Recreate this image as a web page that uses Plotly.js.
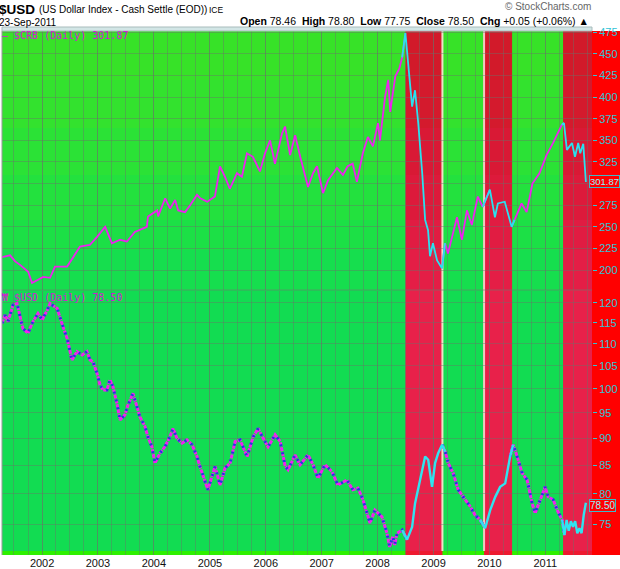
<!DOCTYPE html>
<html><head><meta charset="utf-8">
<script src="https://cdn.plot.ly/plotly-3.0.1.min.js"></script>
<style>html,body{margin:0;padding:0;background:#fff}#chart{width:620px;height:569px}</style>
</head><body><div id="chart"></div>
<script>
// ---------------- DATA ----------------
const crbDates = ['2001-04-14','2001-06-06','2001-07-09','2001-08-10','2001-10-02','2001-10-27','2002-01-08','2002-02-22','2002-03-26','2002-06-13','2002-07-20','2002-09-05','2002-11-09','2002-12-25','2003-02-17','2003-04-02','2003-05-26','2003-07-09','2003-08-30','2003-11-16','2003-11-24','2004-01-23','2004-01-29','2004-03-15','2004-04-16','2004-05-19','2004-06-08','2004-07-23','2004-08-25','2004-10-09','2004-10-30','2004-12-15','2005-02-03','2005-03-08','2005-04-09','2005-05-11','2005-06-27','2005-07-29','2005-08-31','2005-10-09','2005-11-24','2005-12-27','2006-01-29','2006-03-02','2006-04-17','2006-05-07','2006-06-09','2006-07-12','2006-08-14','2006-09-15','2006-10-04','2006-11-06','2006-12-02','2007-01-10','2007-02-12','2007-04-11','2007-05-20','2007-06-20','2007-07-23','2007-08-19','2007-09-27','2007-10-30','2007-12-02','2008-01-04','2008-01-17','2008-02-19','2008-03-11','2008-03-24','2008-04-26','2008-05-22','2008-06-10','2008-07-01','2008-07-19','2008-08-14','2008-09-02','2008-09-23','2008-10-19','2008-11-07','2008-11-26','2008-12-09','2008-12-28','2009-01-24','2009-02-25','2009-03-17','2009-04-05','2009-06-03','2009-07-05','2009-08-07','2009-09-08','2009-10-17','2009-11-18','2010-01-04','2010-02-06','2010-02-25','2010-04-11','2010-05-26','2010-06-14','2010-07-30','2010-09-01','2010-10-09','2010-11-24','2011-01-09','2011-02-21','2011-04-19','2011-05-03','2011-05-22','2011-06-24','2011-07-14','2011-08-04','2011-08-17','2011-09-06','2011-09-23'];
const crbValues = [215,217,210,206,198,185,192,191,204,204,214,227,229,238,250,231,235,233,244,250,262,269,262,283,271,281,269,267,275,287,283,279,285,320,308,294,312,308,335,331,314,335,350,323,358,366,333,356,331,308,296,312,320,289,304,318,310,320,323,302,335,354,343,370,350,400,420,383,424,433,446,474,439,389,408,370,312,258,246,216,231,211,202,231,219,261,235,269,252,285,273,293,261,277,279,250,258,277,267,300,312,333,347,368,370,339,347,331,347,335,346,301.87];

const usdDates = ['2001-04-14','2001-05-04','2001-05-23','2001-06-25','2001-07-21','2001-08-29','2001-10-01','2001-11-02','2001-12-05','2002-01-01','2002-02-03','2002-02-22','2002-04-09','2002-04-28','2002-05-18','2002-06-13','2002-07-02','2002-07-15','2002-08-17','2002-09-19','2002-10-21','2002-11-10','2002-11-29','2002-12-26','2003-01-14','2003-02-03','2003-02-28','2003-03-20','2003-04-09','2003-05-05','2003-05-25','2003-06-26','2003-07-16','2003-08-17','2003-09-13','2003-10-02','2003-11-04','2003-11-23','2003-12-19','2004-01-08','2004-02-10','2004-03-13','2004-04-15','2004-05-05','2004-05-31','2004-07-03','2004-08-04','2004-09-06','2004-10-09','2004-10-28','2004-12-19','2005-02-04','2005-03-08','2005-04-10','2005-05-13','2005-06-15','2005-07-17','2005-09-01','2005-10-11','2005-11-12','2005-12-15','2006-01-16','2006-03-03','2006-04-05','2006-05-08','2006-05-27','2006-07-11','2006-08-13','2006-10-04','2006-11-06','2006-12-08','2007-01-23','2007-03-09','2007-04-17','2007-06-15','2007-07-24','2007-08-26','2007-09-28','2007-11-13','2007-12-15','2008-01-30','2008-03-03','2008-03-20','2008-04-10','2008-04-22','2008-05-08','2008-06-10','2008-07-12','2008-08-14','2008-09-02','2008-10-05','2008-11-07','2008-11-27','2008-12-22','2009-01-11','2009-01-31','2009-02-26','2009-03-18','2009-04-07','2009-05-09','2009-06-11','2009-07-13','2009-08-28','2009-09-29','2009-11-01','2009-12-04','2010-01-06','2010-02-08','2010-03-12','2010-04-14','2010-05-16','2010-06-05','2010-07-01','2010-08-03','2010-09-04','2010-10-07','2010-10-27','2010-11-29','2010-12-31','2011-01-20','2011-02-22','2011-03-20','2011-04-21','2011-05-06','2011-05-20','2011-06-03','2011-06-17','2011-07-01','2011-07-15','2011-07-29','2011-08-12','2011-08-26','2011-09-09','2011-09-23'];
const usdValues = [114.9,116.9,115.3,119.4,119.8,113.6,112.5,115.3,117.3,115.7,118.1,119.8,118.6,116.1,114.0,111.3,108.5,106.3,108.2,107.4,108.2,106.3,105.9,103.3,100.8,99.7,99.7,101.9,100.4,96.9,93.6,94.6,96.6,99.0,96.2,94.2,92.3,90.3,88.4,85.4,87.2,88.4,90.3,91.9,90.0,89.1,89.7,88.8,86.6,84.8,80.7,84.8,81.5,84.5,85.4,89.4,89.7,86.6,90.3,91.9,90.0,88.4,90.7,89.4,84.8,84.2,86.9,85.1,86.9,85.1,82.7,85.1,83.9,81.5,82.4,80.7,81.0,79.0,75.2,77.3,76.2,73.6,71.5,73.1,71.8,73.6,74.1,72.6,74.6,78.4,82.4,86.6,86.0,81.2,85.4,87.2,88.8,87.5,85.4,83.6,80.7,79.5,77.9,76.5,75.7,74.4,77.3,79.5,81.2,81.8,86.6,88.8,86.6,83.6,82.4,78.4,76.8,79.0,81.2,79.5,79.0,77.3,75.7,73.3,75.7,74.0,75.5,74.6,75.5,73.6,74.4,73.6,76.5,78.5];

const bandStarts = ['2008-07-01','2009-11-27','2011-04-27'];
const bandEnds   = ['2009-02-28','2010-05-29','2011-11-20'];

const crbTicks = [200,225,250,275,300,325,350,375,400,425,450,475];
const crbTickText = ['200','225','250','275','','325','350','375','400','425','450','475'];
const usdTicks = [75,80,85,90,95,100,105,110,115,120];
const yearTicks = ['2002-01-01','2003-01-01','2004-01-01','2005-01-01','2006-01-01','2007-01-01','2008-01-01','2009-01-01','2010-01-01','2011-01-01'];
const yearLabels = ['2002','2003','2004','2005','2006','2007','2008','2009','2010','2011'];

const crbLast = 301.87, usdLast = 78.50;

// ---------------- LAYOUT HELPERS ----------------
const L = 2, R = 592, T = 31, B = 555;
const px = x => (x - L) / (R - L);
const py = y => (B - y) / (B - T);
const fontUI = 'Liberation Sans, Arial, sans-serif';
const fontMono = 'DejaVu Sans Mono, monospace';
const axisCyan = '#2fc3d6';
const gridCol = 'rgba(105,115,105,0.42)';

function inRed(d) {
  const t = Date.parse(d);
  return bandStarts.some((s, i) => t >= Date.parse(s) && t <= Date.parse(bandEnds[i]));
}
function split(dates, vals, wantRed) {
  const y = [];
  for (let i = 0; i < dates.length; i++) {
    const r = inRed(dates[i]);
    const p = i > 0 ? inRed(dates[i - 1]) : r;
    const n = i < dates.length - 1 ? inRed(dates[i + 1]) : r;
    y.push((r === wantRed || p === wantRed || n === wantRed) ? vals[i] : null);
  }
  return { x: dates, y };
}

const crbG = split(crbDates, crbValues, false), crbR = split(crbDates, crbValues, true);
const usdG = split(usdDates, usdValues, false), usdR = split(usdDates, usdValues, true);

const traces = [
  { x: crbG.x, y: crbG.y, xaxis: 'x', yaxis: 'y', mode: 'lines', line: { color: '#ee22ee', width: 1.8 }, hoverinfo: 'skip' },
  { x: crbR.x, y: crbR.y, xaxis: 'x', yaxis: 'y', mode: 'lines', line: { color: '#28e2f0', width: 1.8 }, hoverinfo: 'skip' },
  { x: usdG.x, y: usdG.y, xaxis: 'x', yaxis: 'y2', mode: 'lines', line: { color: '#f020f0', width: 3, dash: '4px,1px' }, hoverinfo: 'skip' },
  { x: usdG.x, y: usdG.y, xaxis: 'x', yaxis: 'y2', mode: 'lines', line: { color: '#2438e0', width: 3, dash: '2px,6px' }, hoverinfo: 'skip' },
  { x: usdR.x, y: usdR.y, xaxis: 'x', yaxis: 'y2', mode: 'lines', line: { color: '#30e4f0', width: 2.4 }, hoverinfo: 'skip' }
];

// background gradient strips (pixel tops/bottoms with green/red shades)
const strips = [
  [31, 80, '#37e228', '#d21a2a'],
  [80, 128, '#33e22e', '#d41a2d'],
  [128, 175, '#2be236', '#d91935'],
  [175, 220, '#23e13e', '#dd1a3b'],
  [220, 250, '#1ce046', '#e11c42'],
  [250, 290, '#16de4e', '#e41e46'],
  [290, 551, '#12dc52', '#e8214a'],
  [551, 555, '#2ef000', '#ee1a30']
];
const shapes = [];
strips.forEach(s => {
  shapes.push({ type: 'rect', xref: 'paper', yref: 'paper', x0: 0, x1: 1, y0: py(s[1]), y1: py(s[0]), fillcolor: s[2], line: { width: 0 }, layer: 'below' });
});
bandStarts.forEach((b, i) => {
  strips.forEach(s => {
    shapes.push({ type: 'rect', xref: 'x', yref: 'paper', x0: b, x1: bandEnds[i], y0: py(s[1]), y1: py(s[0]), fillcolor: s[3], line: { width: 0 }, layer: 'below' });
  });
});
// light separators at band edges
shapes.push({ type: 'line', xref: 'x', yref: 'paper', x0: bandEnds[0], x1: bandEnds[0], y0: py(551), y1: 1, line: { color: '#efe0c8', width: 2 }, layer: 'below' });
shapes.push({ type: 'line', xref: 'x', yref: 'paper', x0: bandStarts[1], x1: bandStarts[1], y0: py(551), y1: 1, line: { color: '#f0c8c0', width: 2 }, layer: 'below' });
// right margin red
shapes.push({ type: 'rect', xref: 'paper', yref: 'paper', x0: 1, x1: 1.1, y0: 0, y1: 1, fillcolor: '#ff0000', line: { width: 0 }, layer: 'below' });
// top light strip
shapes.push({ type: 'rect', xref: 'paper', yref: 'paper', x0: 0, x1: 1, y0: 1, y1: py(27), fillcolor: '#d2e6e6', line: { color: '#a9bcbc', width: 1 }, layer: 'above' });
// panel divider + left edge
shapes.push({ type: 'line', xref: 'paper', yref: 'paper', x0: 0, x1: 1, y0: py(290), y1: py(290), line: { color: 'rgba(110,120,110,0.6)', width: 1 }, layer: 'above' });
shapes.push({ type: 'line', xref: 'paper', yref: 'paper', x0: 0, x1: 0, y0: 0, y1: 1, line: { color: '#999', width: 1 }, layer: 'above' });

const ann = [];
function A(text, xp, yp, o) {
  ann.push(Object.assign({ xref: 'paper', yref: 'paper', x: px(xp), y: py(yp), text, showarrow: false, xanchor: 'left', yanchor: 'middle', borderpad: 0, font: { family: fontUI, size: 10, color: '#000' } }, o || {}));
}
A('<b>$USD</b>', -2, 9, { font: { family: fontUI, size: 13.5, color: '#000' } });
A('(US Dollar Index - Cash Settle (EOD))', 38, 10, { font: { family: fontUI, size: 10, color: '#000' } });
A('ICE', 208, 10, { font: { family: fontUI, size: 8.5, color: '#000' } });
A('23-Sep-2011', -2, 22, { font: { family: fontUI, size: 10, color: '#000' } });
A('<b>Open</b> 78.46  <b>High</b> 78.80  <b>Low</b> 77.75  <b>Close</b> 78.50  <b>Chg</b> +0.05 (+0.06%) ▲', 590, 21, { xanchor: 'right', font: { family: fontUI, size: 10.5, color: '#000' } });
A('© StockCharts.com', 592, 7, { xanchor: 'right', font: { family: fontUI, size: 10, color: '#666' } });
A('— $CRB (Daily) ' + crbLast.toFixed(2), 1, 36, { font: { family: fontMono, size: 10, color: '#d418d4' } });
A('₩ $USD (Daily) ' + usdLast.toFixed(2), 1, 297, { font: { family: fontMono, size: 10, color: '#d418d4' } });
// last value boxes
ann.push({ xref: 'paper', yref: 'y', x: px(589), y: crbLast, text: crbLast.toFixed(2), showarrow: false, xanchor: 'left', yanchor: 'middle', bgcolor: '#ff0000', bordercolor: '#3fb8c8', borderwidth: 1, borderpad: 0, font: { family: fontUI, size: 9.5, color: '#8ff4ff' } });
ann.push({ xref: 'paper', yref: 'y2', x: px(589), y: Math.log10(usdLast), yshift: -3, text: usdLast.toFixed(2), showarrow: false, xanchor: 'left', yanchor: 'middle', bgcolor: '#ff0000', bordercolor: '#3fb8c8', borderwidth: 1, borderpad: 0, font: { family: fontUI, size: 10, color: '#8ff4ff' } });

const layout = {
  width: 620, height: 569,
  margin: { l: L, r: 620 - R, t: T, b: 569 - B, pad: 0 },
  paper_bgcolor: '#ffffff', plot_bgcolor: 'rgba(0,0,0,0)',
  showlegend: false,
  xaxis: {
    type: 'date', anchor: 'y2', range: ['2001-04-14', '2011-11-02'],
    tickmode: 'array', tickvals: yearTicks, ticktext: yearLabels, ticks: '',
    tickfont: { family: fontUI, size: 11, color: '#111' },
    showgrid: true, gridcolor: gridCol, gridwidth: 1, zeroline: false, showline: false,
    minor: { dtick: 'M3', tick0: '2002-01-01', showgrid: true, gridcolor: gridCol, gridwidth: 1, ticks: '' }
  },
  yaxis: {
    domain: [py(290), 1], anchor: 'x', side: 'right', range: [176.9, 476.5],
    tickmode: 'array', tickvals: crbTicks, ticktext: crbTickText,
    ticks: 'outside', ticklen: 4, tickcolor: axisCyan, tickfont: { family: fontUI, size: 11, color: axisCyan },
    showgrid: true, gridcolor: gridCol, zeroline: false, showline: false
  },
  yaxis2: {
    domain: [0, py(291)], anchor: 'x', side: 'right', type: 'log', range: [1.8468, 2.0900],
    tickmode: 'array', tickvals: usdTicks, ticktext: usdTicks.map(String),
    ticks: 'outside', ticklen: 4, tickcolor: axisCyan, tickfont: { family: fontUI, size: 11, color: axisCyan },
    showgrid: true, gridcolor: gridCol, zeroline: false, showline: false
  },
  shapes, annotations: ann
};

Plotly.newPlot('chart', traces, layout, { staticPlot: true, displayModeBar: false });
</script></body></html>
